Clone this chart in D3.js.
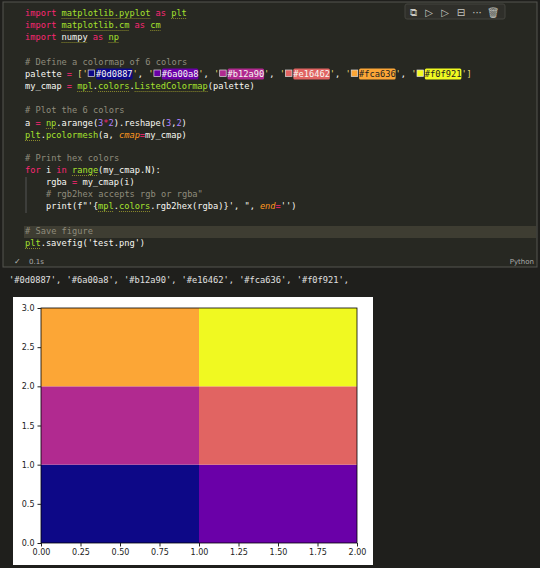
<!DOCTYPE html>
<html><head><meta charset="utf-8">
<script src="https://cdn.jsdelivr.net/npm/d3@7"></script>
<style>body{margin:0;background:#1f1f1c;}svg{display:block}</style>
</head><body><svg id="s" width="540" height="568"></svg>
<script>
const palette = ['#0d0887','#6a00a8','#b12a90','#e16462','#fca636','#f0f921'];
const gridRows = [[0,1],[2,3],[4,5]]; // a = np.arange(6).reshape(3,2)
const xTicks = [0,0.25,0.5,0.75,1,1.25,1.5,1.75,2];
const yTicks = [0,0.5,1,1.5,2,2.5,3];

const svg = d3.select('#s');
svg.append('rect').attr('width',540).attr('height',568).attr('fill','#1f1f1c');
// cell
svg.append('rect').attr('x',3).attr('y',2).attr('width',534).attr('height',265).attr('fill','#272822').attr('stroke','#55554f');
svg.append('rect').attr('x',24).attr('y',226).attr('width',512).attr('height',12).attr('fill','#3e3d32');
// toolbar
svg.append('rect').attr('x',405).attr('y',4).attr('width',100).attr('height',15).attr('rx',2).attr('fill','#2f2f2a').attr('stroke','#44443e');
['⧉','▷','▷','⊟','···','🗑'].forEach((t,i)=>svg.append('text').attr('x',413+i*16).attr('y',16).attr('fill','#c8c8c2').attr('font-size',10).attr('font-family','DejaVu Sans').attr('text-anchor','middle').text(t));

const C={kw:'#f92672',fn:'#a6e22e',tx:'#f8f8f2',cm:'#8f8c7c',num:'#ae81ff',str:'#e6db74',par:'#fd971f'};
const cw=5.22;
const lines=[
 [16,[['import ','kw'],['matplotlib.pyplot','fn',1],[' as ','kw'],['plt','fn',1]]],
 [28,[['import ','kw'],['matplotlib.cm','fn',1],[' as ','kw'],['cm','fn',1]]],
 [40,[['import ','kw'],['numpy','tx',1],[' as ','kw'],['np','fn',1]]],
 [65,[['# Define a colormap of 6 colors','cm']]],
 [77,'PAL'],
 [89,[['my_cmap ','tx'],['= ','kw'],['mpl','fn',1],['.','tx'],['colors','fn',1],['.','tx'],['ListedColormap','fn',1],['(palette)','tx']]],
 [113,[['# Plot the 6 colors','cm']]],
 [126,[['a ','tx'],['= ','kw'],['np','fn',1],['.arange(','tx'],['3','num'],['*','kw'],['2','num'],[').reshape(','tx'],['3','num'],[',','tx'],['2','num'],[')','tx']]],
 [138,[['plt','fn',1],['.','tx'],['pcolormesh','fn'],['(a, ','tx'],['cmap','par'],['=','kw'],['my_cmap','tx'],[')','tx']]],
 [161,[['# Print hex colors','cm']]],
 [173,[['for ','kw'],['i ','tx'],['in ','kw'],['range','fn',1],['(my_cmap.N):','tx']]],
 [185,[['    rgba ','tx'],['= ','kw'],['my_cmap(i)','tx']]],
 [197,[['    # rgb2hex accepts rgb or rgba"','cm']]],
 [209,[['    print(f"\'{','tx'],['mpl','fn',1],['.','tx'],['colors','fn',1],['.rgb2hex(rgba)}\', ", ','tx'],['end','par'],['=','kw'],["'')",'tx']]],
 [234,[['# Save figure','cm']]],
 [246,[['plt','fn',1],['.savefig(','tx'],["'test.png'",'tx'],[')','tx']]],
];
const code=svg.append('g').attr('font-family','DejaVu Sans Mono').attr('font-size',8.7);
function put(y,segs){let col=0;segs.forEach(s=>{
  if(s[1]==='chip'){
    const x=25+col*cw;
    code.append('rect').attr('x',x+0.5).attr('y',y-7).attr('width',6.5).attr('height',6.5).attr('fill',s[2]).attr('stroke','#ddd').attr('stroke-width',0.7);
    col+=1.6;
    const hx=25+col*cw;
    code.append('rect').attr('x',hx).attr('y',y-8.5).attr('width',7*cw).attr('height',11).attr('rx',1.5).attr('fill',s[2]);
    code.append('text').attr('x',hx).attr('y',y).attr('fill',s[2]==='#f0f921'||s[2]==='#fca636'?'#222':'#f8f8f2').text(s[2]);
    col+=7;return;}
  const t=code.append('text').attr('x',25+col*cw).attr('y',y).attr('fill',C[s[1]]).attr('xml:space','preserve').style('white-space','pre').text(s[0]);
  if(s[1]==='par')t.attr('font-style','italic');
  if(s[2])code.append('line').attr('x1',25+col*cw).attr('x2',25+(col+s[0].trim().length)*cw).attr('y1',y+2.5).attr('y2',y+2.5).attr('stroke','#a6a62e').attr('stroke-dasharray','1,1').attr('stroke-width',0.8);
  col+=s[0].length;});}
lines.forEach(([y,segs])=>{
  if(segs==='PAL'){
    const s=[['palette ','tx'],['= ','kw'],['[','str']];
    palette.forEach((p,i)=>{s.push(["'",'str']);s.push(['','chip',p]);s.push(["'",'str']);if(i<palette.length-1)s.push([', ','tx']);});
    s.push([']','str']);put(y,s);
  } else put(y,segs);
});
// indent guide
code.append('line').attr('x1',26).attr('x2',26).attr('y1',177).attr('y2',213).attr('stroke','#555');
svg.append('text').attr('x',14).attr('y',264).attr('fill','#bbb').attr('font-size',8).attr('font-family','DejaVu Sans').text('✓');
svg.append('text').attr('x',29).attr('y',264).attr('fill','#aaa').attr('font-size',7).attr('font-family','DejaVu Sans').text('0.1s');
svg.append('text').attr('x',534).attr('y',264).attr('fill','#aaa').attr('font-size',7).attr('font-family','DejaVu Sans').attr('text-anchor','end').text('Python');
svg.append('text').attr('x',9).attr('y',283).attr('fill','#e0e0e0').attr('font-size',8.7).attr('font-family','DejaVu Sans Mono').text(palette.map(p=>`'${p}'`).join(', ')+',');

// figure
svg.append('rect').attr('x',13).attr('y',297).attr('width',360).attr('height',268).attr('fill','#fff');
const x=d3.scaleLinear().domain([0,2]).range([41,357]);
const y=d3.scaleLinear().domain([0,3]).range([543,308]);
const cells=[];gridRows.forEach((r,i)=>r.forEach((v,j)=>cells.push({i,j,v})));
svg.append('g').selectAll('rect').data(cells).join('rect')
 .attr('x',d=>x(d.j)).attr('y',d=>y(d.i+1)).attr('width',d=>x(d.j+1)-x(d.j)).attr('height',d=>y(d.i)-y(d.i+1))
 .attr('fill',d=>palette[d.v]);
svg.append('rect').attr('x',41).attr('y',308).attr('width',316).attr('height',235).attr('fill','none').attr('stroke','#000').attr('stroke-width',0.8);
const ax=svg.append('g').attr('transform','translate(0,543)').call(d3.axisBottom(x).tickValues(xTicks).tickFormat(d3.format('.2f')).tickSize(3.5));
const ay=svg.append('g').attr('transform','translate(41,0)').call(d3.axisLeft(y).tickValues(yTicks).tickFormat(d3.format('.1f')).tickSize(3.5));
[ax,ay].forEach(a=>{a.select('.domain').remove();a.selectAll('text').attr('font-family','DejaVu Sans').attr('font-size',8).attr('fill','#222');a.selectAll('line').attr('stroke','#222');});
</script></body></html>
